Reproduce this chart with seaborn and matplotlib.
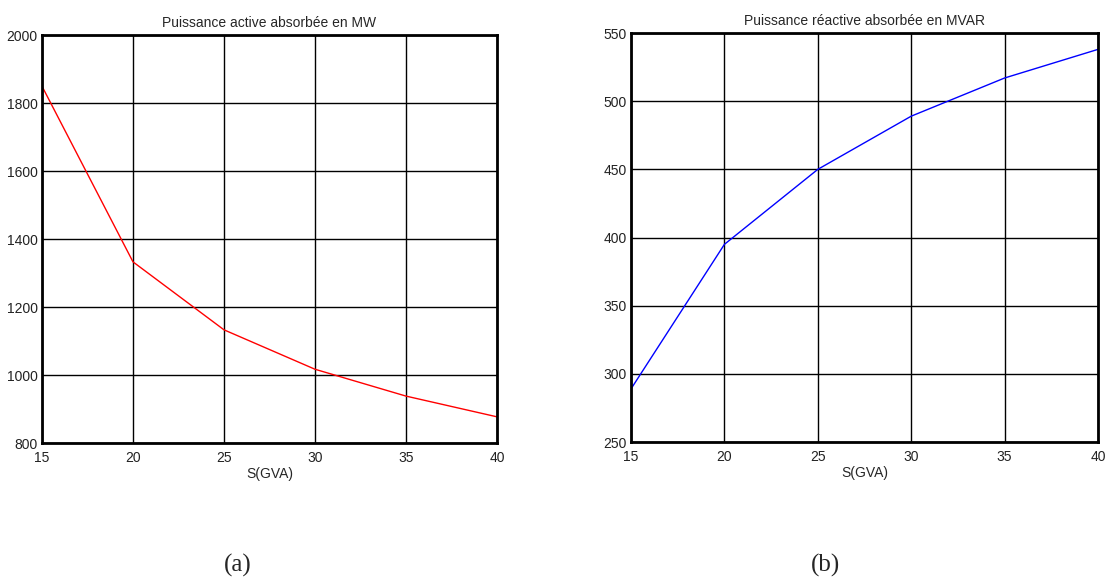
import pandas as pd
import matplotlib
matplotlib.use('Agg')
import matplotlib.pyplot as plt
import seaborn as sns

# valeurs
s_gva = [15, 20, 25, 30, 35, 40]
p_active = [1850, 1333, 1133, 1017, 938, 877]
q_reactive = [289, 395, 450, 489, 517, 538]

df = pd.DataFrame({'S': s_gva, 'P': p_active, 'Q': q_reactive})

sns.set_style('white')
plt.rcParams['font.family'] = ['Liberation Sans', 'DejaVu Sans']

fig = plt.figure(figsize=(11.1, 5.81), dpi=100)
ax1 = fig.add_axes([0.0378, 0.2375, 0.41, 0.702])
ax2 = fig.add_axes([0.5685, 0.2392, 0.4207, 0.704])


def style_axes(ax, ylim, yticks, title):
    ax.set_xlim(15, 40)
    ax.set_ylim(*ylim)
    ax.set_xticks(s_gva)
    ax.set_yticks(yticks)
    ax.grid(True, color='black', linewidth=1.0)
    ax.set_axisbelow(True)
    for sp in ax.spines.values():
        sp.set_visible(True)
        sp.set_color('black')
        sp.set_linewidth(2.0)
    ax.tick_params(axis='both', length=0, labelsize=10, colors='#222222')
    ax.tick_params(axis='x', pad=6)
    ax.tick_params(axis='y', pad=3)
    ax.set_title(title, fontsize=10, pad=6)
    ax.set_xlabel('S(GVA)', fontsize=10, labelpad=1)
    ax.set_ylabel('')


sns.lineplot(data=df, x='S', y='P', ax=ax1, color='red', linewidth=1.0)
style_axes(ax1, (800, 2000), [800, 1000, 1200, 1400, 1600, 1800, 2000],
           'Puissance active absorbée en MW')

sns.lineplot(data=df, x='S', y='Q', ax=ax2, color='blue', linewidth=1.0)
style_axes(ax2, (250, 550), [250, 300, 350, 400, 450, 500, 550],
           'Puissance réactive absorbée en MVAR')

fig.text(238 / 1110, 1 - 565 / 581, '(a)', family='Liberation Serif',
         fontsize=18, ha='center', va='center')
fig.text(826 / 1110, 1 - 565 / 581, '(b)', family='Liberation Serif',
         fontsize=18, ha='center', va='center')

fig.savefig('out.png', dpi=100)
